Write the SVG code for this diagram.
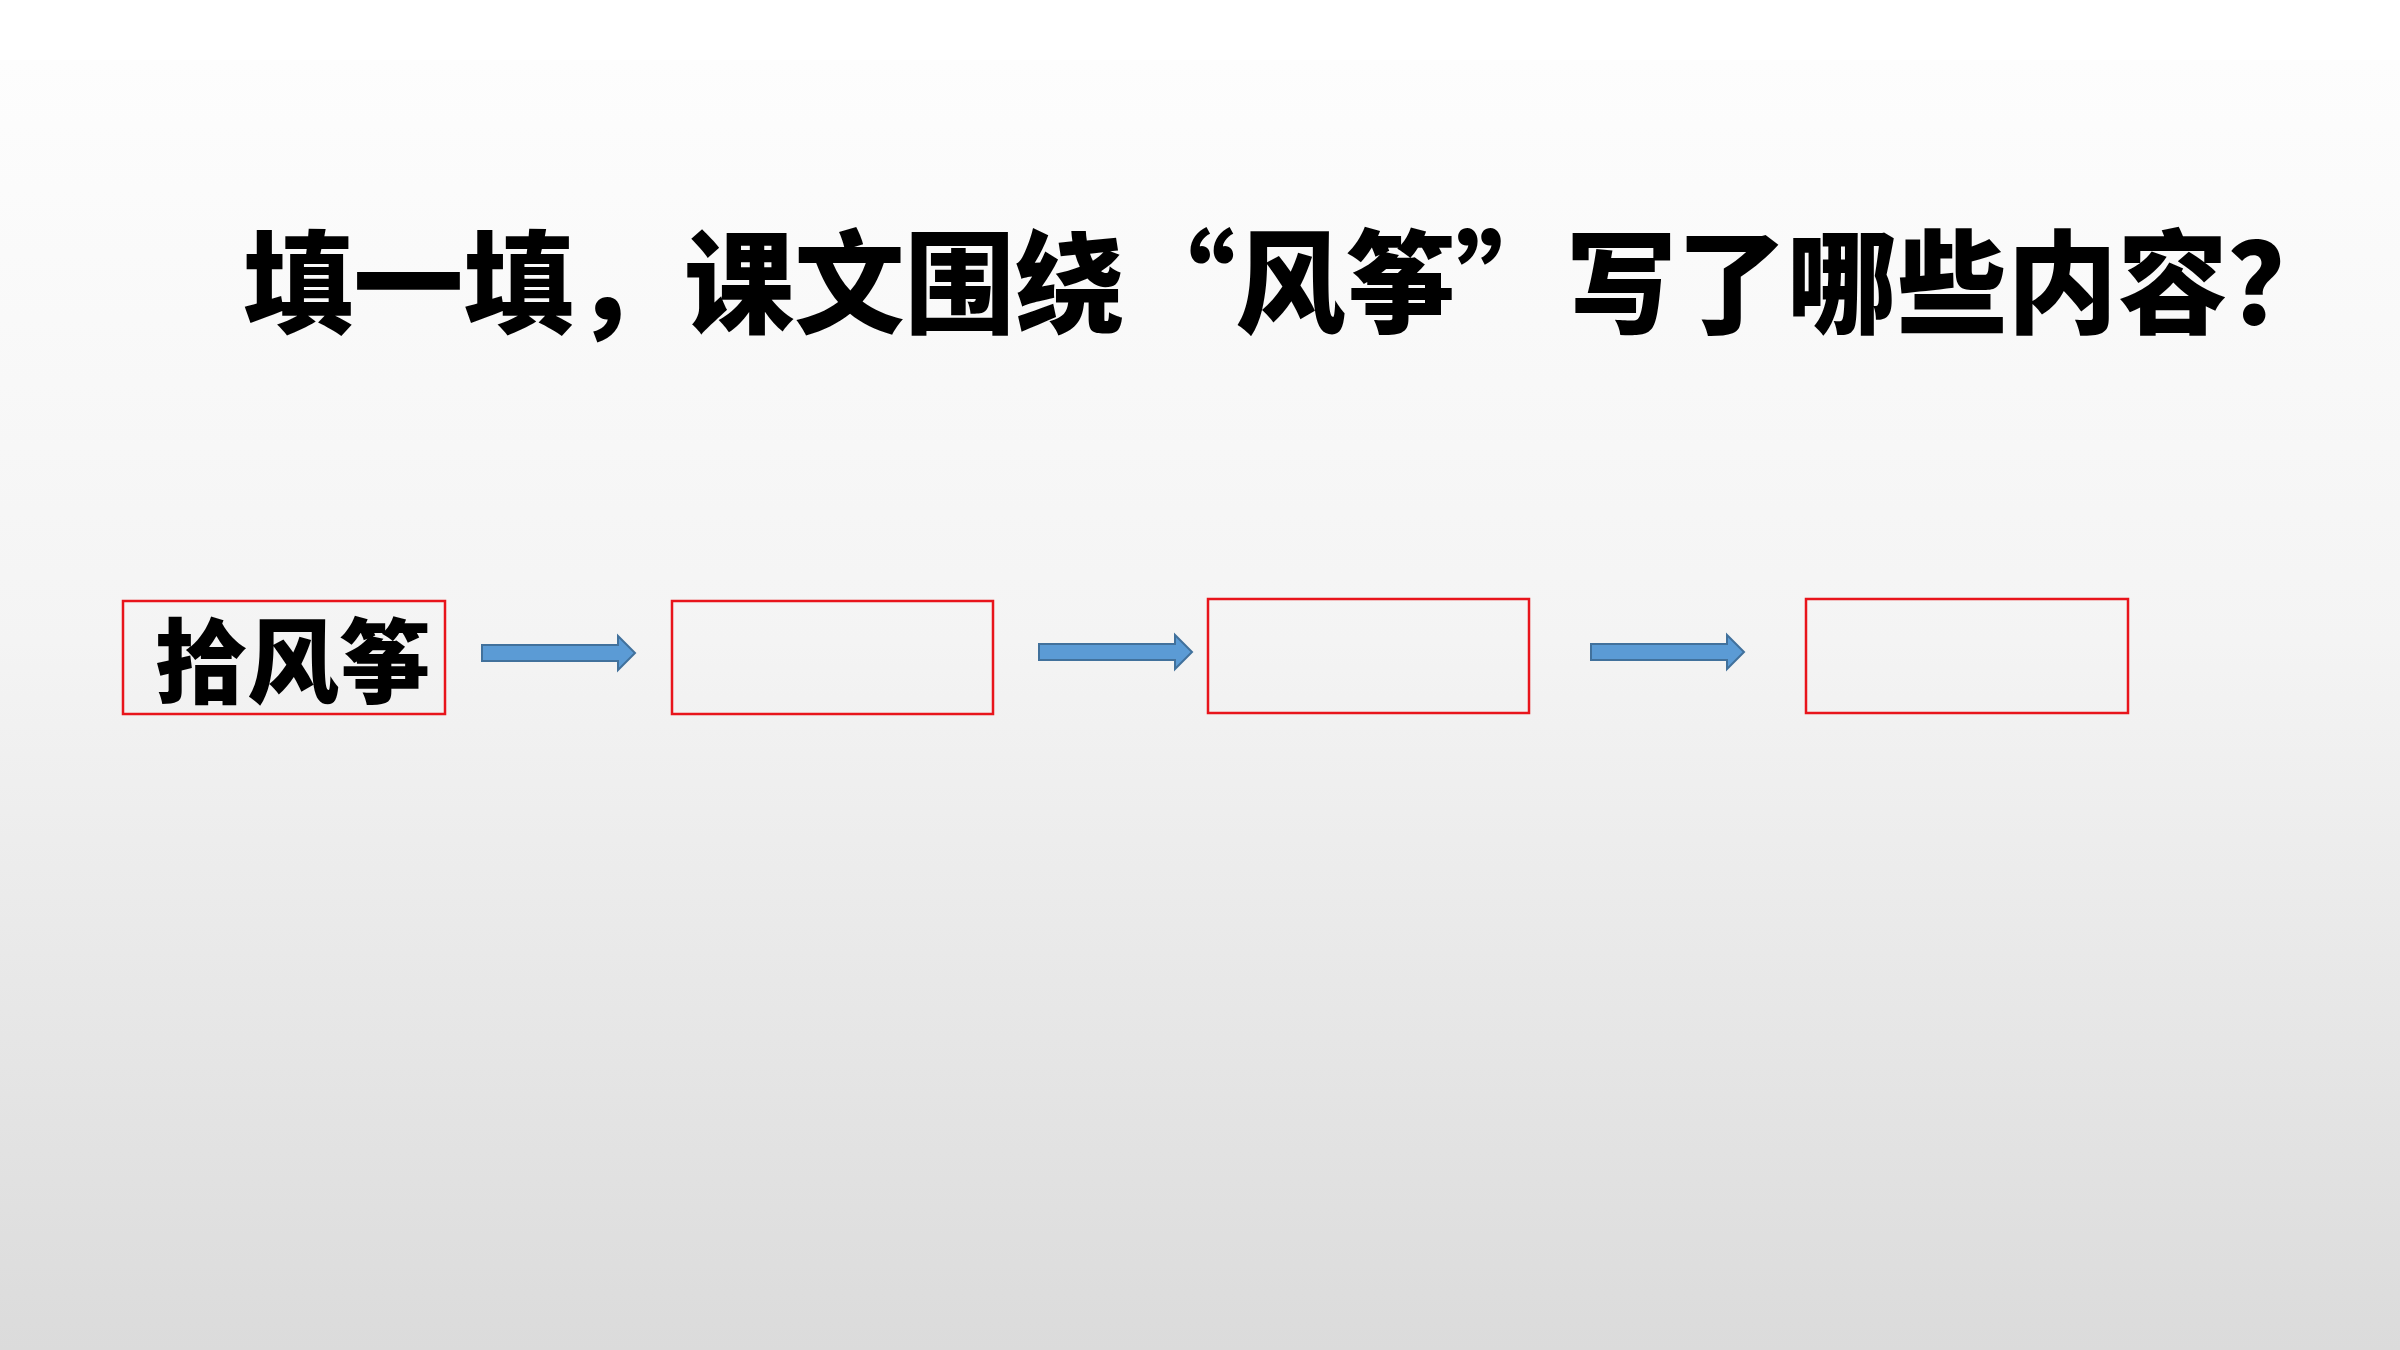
<svg xmlns="http://www.w3.org/2000/svg" width="2400" height="1350" viewBox="0 0 2400 1350">
  <defs>
    <linearGradient id="bg" x1="0" y1="60" x2="0" y2="1350" gradientUnits="userSpaceOnUse">
      <stop offset="0" stop-color="#fdfdfd"/>
      <stop offset="0.45" stop-color="#f4f4f4"/>
      <stop offset="1" stop-color="#dbdbdb"/>
    </linearGradient>
    <path id="arrow" d="M0,-8 L136,-8 L136,-17 L153,0 L136,17 L136,8 L0,8 Z"/>
  </defs>
  <style>
    .title { font-family: "Noto Sans CJK SC", "Noto Sans", sans-serif; font-weight: 900; font-size: 112px; fill: #000; }
    .label { font-family: "Noto Sans CJK SC", "Noto Sans", sans-serif; font-weight: 900; font-size: 92px; fill: #000; }
    .box { fill: none; stroke: #e8141b; stroke-width: 2.5; }
    .arr { fill: #5b9bd5; stroke: #41719c; stroke-width: 2; }
  </style>
  <rect x="0" y="0" width="2400" height="1350" fill="#ffffff"/>
  <rect x="0" y="60" width="2400" height="1290" fill="url(#bg)"/>

  <text class="title" x="243" y="325" textLength="2095" lengthAdjust="spacingAndGlyphs">填一填，课文围绕“风筝”写了哪些内容？</text>

  <g id="connectors">
    <use href="#arrow" class="arr" x="482" y="653"/>
    <use href="#arrow" class="arr" x="1039" y="652"/>
    <use href="#arrow" class="arr" x="1591" y="652"/>
  </g>

  <g id="node1">
    <rect class="box" x="123" y="601" width="322" height="113"/>
    <text class="label" x="293" y="696" text-anchor="middle">拾风筝</text>
  </g>
  <g id="node2">
    <rect class="box" x="672" y="601" width="321" height="113"/>
  </g>
  <g id="node3">
    <rect class="box" x="1208" y="599" width="321" height="114"/>
  </g>
  <g id="node4">
    <rect class="box" x="1806" y="599" width="322" height="114"/>
  </g>
</svg>
